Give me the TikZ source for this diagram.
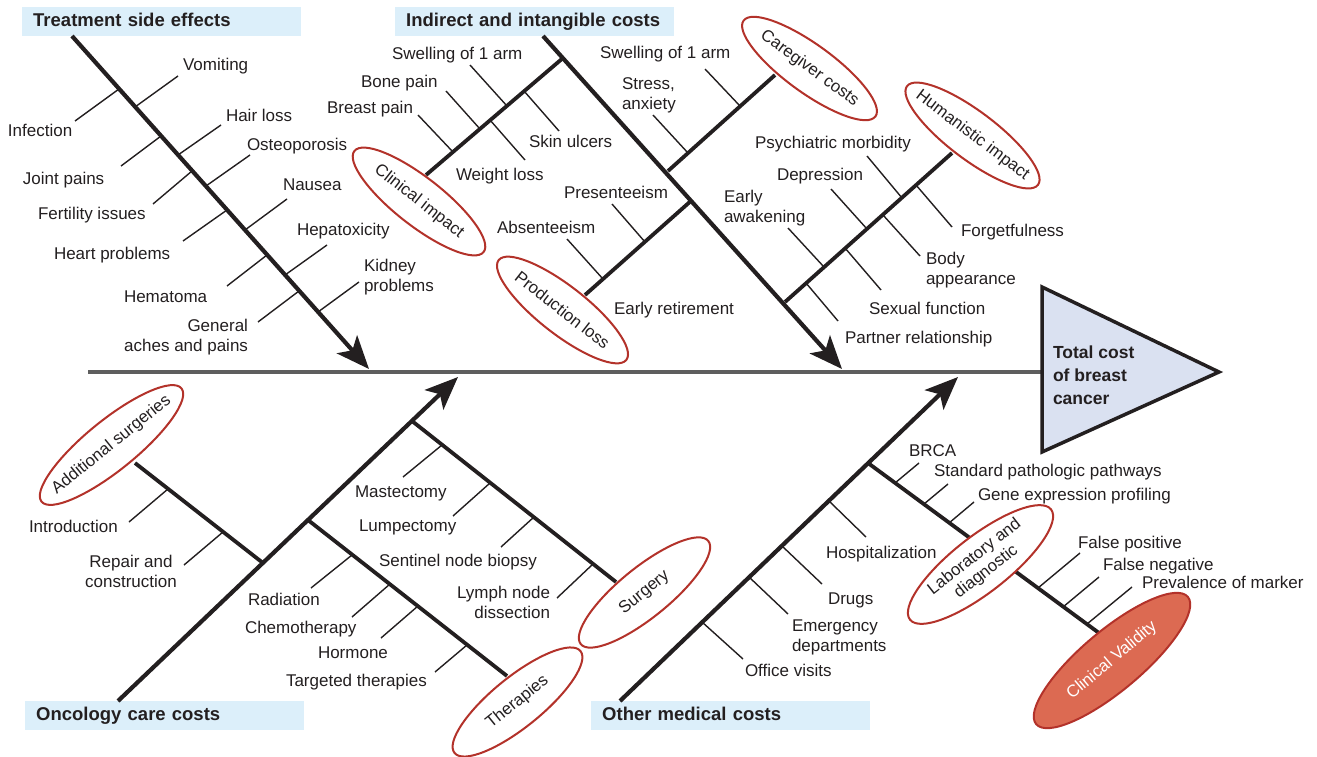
\documentclass[tikz,border=0pt]{standalone}
\usepackage{fontspec}
\setmainfont{Liberation Sans}
\usetikzlibrary{arrows.meta,shapes.geometric}
\definecolor{ink}{HTML}{231F20}
\definecolor{ored}{HTML}{B3322A}
\definecolor{hdrblue}{HTML}{DCEFFA}
\definecolor{trifill}{HTML}{DAE1F1}
\definecolor{cvfill}{HTML}{DC6A52}
\definecolor{spinegray}{HTML}{5E5E5E}
\newcommand{\ribseg}[3]{\coordinate (#1i) at #2; \coordinate (#1o) at #3; \draw[rib] (#1i) -- (#1o);}
\begin{document}
\begin{tikzpicture}[x=1pt, y=-1pt,
  bone/.style={line width=4.2pt, draw=ink, -{Stealth[length=33pt,width=27pt,inset=8pt]}},
  subbone/.style={line width=3.8pt, draw=ink},
  rib/.style={line width=1.4pt, draw=ink},
  lbl/.style={font=\fontsize{17}{20}\selectfont, text=ink, inner sep=0pt, outer sep=0pt},
  hdr/.style={font=\bfseries\fontsize{18.5}{22}\selectfont, text=ink, fill=hdrblue, anchor=west,
    minimum height=29pt, text width=257pt, inner xsep=11pt, inner ysep=0pt, align=left,
    text height=13pt, text depth=3.5pt},
  oval/.style={ellipse, draw=ored, line width=2pt, fill=white, inner sep=0pt, text=ink,
    font=\fontsize{16.8}{19}\selectfont},
  spine/.style={line width=4pt, draw=spinegray},
  tri/.style={draw=ink, line width=3.5pt, fill=trifill, line join=miter}]
\useasboundingbox (0,0) rectangle (1317,757);

% header boxes
\node[hdr] (h1) at (22,21.5) {Treatment side effects};
\node[hdr] (h2) at (395,21.5) {Indirect and intangible costs};
\node[hdr] (h3) at (25,715.5) {Oncology care costs};
\node[hdr] (h4) at (591,715.5) {Other medical costs};

% spine
\coordinate (sp0) at (88,372);
\coordinate (tm) at (1042,372);
\draw[spine] (sp0) -- (tm);

% main bones
\coordinate (b1s) at (72,36);   \coordinate (b1t) at (369,369);
\coordinate (b2s) at (543,36);  \coordinate (b2t) at (842,369);
\coordinate (b3s) at (118,701); \coordinate (b3t) at (458,377);
\coordinate (b4s) at (620,701); \coordinate (b4t) at (958,377);
\draw[bone] (b1s) -- (b1t);
\draw[bone] (b2s) -- (b2t);
\draw[bone] (b3s) -- (b3t);
\draw[bone] (b4s) -- (b4t);

% sub-bones
\coordinate (ciJ) at (563,58);  \coordinate (ciK) at (426,175);
\coordinate (cgJ) at (668,171); \coordinate (cgK) at (775,75);
\coordinate (plJ) at (692,200); \coordinate (plK) at (585,295);
\coordinate (hiJ) at (785,302); \coordinate (hiK) at (952,153);
\coordinate (asJ) at (263,563); \coordinate (asK) at (135,463);
\coordinate (thJ) at (308,520); \coordinate (thK) at (507,676);
\coordinate (suJ) at (412,421); \coordinate (suK) at (616,582);
\coordinate (lbJ) at (868,463); \coordinate (lbK) at (1099,633);
\foreach \s in {ci,cg,pl,hi,as,th,su,lb} {\draw[subbone] (\s J) -- (\s K);}

% ribs: treatment side effects
\ribseg{inf}{(119,89)}{(75,121)}
\ribseg{vom}{(135,107)}{(178,76)}
\ribseg{joi}{(161,136)}{(121,166)}
\ribseg{hai}{(178,155)}{(221,125)}
\ribseg{fer}{(192,171)}{(153,204)}
\ribseg{ost}{(206,186)}{(250,155)}
\ribseg{hea}{(227,210)}{(183,241)}
\ribseg{nau}{(245,230)}{(287,199)}
\ribseg{hem}{(267,255)}{(227,286)}
\ribseg{hep}{(285,275)}{(327,245)}
\ribseg{gen}{(299,291)}{(258,322)}
\ribseg{kid}{(318,312)}{(359,282)}
% clinical impact
\ribseg{swa}{(507,106)}{(470,65)}
\ribseg{bon}{(480,129)}{(446,91)}
\ribseg{bre}{(453,152)}{(418,115)}
\ribseg{ski}{(524,91)}{(559,131)}
\ribseg{wei}{(490,120)}{(525,160)}
% caregiver
\ribseg{swb}{(740,106)}{(705,69)}
\ribseg{str}{(688,153)}{(653,115)}
% production loss
\ribseg{prs}{(645,242)}{(612,204)}
\ribseg{abs}{(603,279)}{(567,239)}
% humanistic
\ribseg{psy}{(902,198)}{(867,156)}
\ribseg{fgt}{(916,185)}{(952,227)}
\ribseg{dep}{(867,229)}{(831,189)}
\ribseg{bod}{(883,215)}{(920,256)}
\ribseg{ear}{(824,267)}{(788,228)}
\ribseg{sex}{(845,248)}{(881,290)}
\ribseg{par}{(806,283)}{(838,321)}
% additional surgeries
\ribseg{int}{(168,489)}{(129,522)}
\ribseg{rep}{(223,532)}{(184,565)}
% surgery
\ribseg{mas}{(442,445)}{(403,477)}
\ribseg{lum}{(490,483)}{(453,516)}
\ribseg{sen}{(534,517)}{(501,547)}
\ribseg{lym}{(593,564)}{(557,598)}
% therapies
\ribseg{rad}{(352,555)}{(311,588)}
\ribseg{che}{(390,584)}{(352,617)}
\ribseg{hor}{(418,606)}{(381,638)}
\ribseg{tar}{(467,645)}{(435,672)}
% other medical
\ribseg{hos}{(829,501)}{(866,537)}
\ribseg{dru}{(782,546)}{(822,584)}
\ribseg{eme}{(749,577)}{(788,614)}
\ribseg{off}{(702,622)}{(743,659)}
% laboratory
\ribseg{brc}{(895,483)}{(919,463)}
\ribseg{std}{(924,504)}{(948,484)}
\ribseg{gex}{(949,523)}{(974,502)}
\ribseg{fpo}{(1038,588)}{(1080,553)}
\ribseg{fne}{(1063,607)}{(1099,577)}
\ribseg{prv}{(1087,624)}{(1132,587)}

% ellipses
\node[oval, minimum width=164pt, minimum height=48pt, rotate=-38] (ciE) at (419,201.5) {\makebox[0pt]{Clinical impact}};
\node[oval, minimum width=162pt, minimum height=48pt, rotate=-38] (plE) at (562.5,310) {\makebox[0pt]{Production loss}};
\node[oval, minimum width=163pt, minimum height=48pt, rotate=-36] (cgE) at (809.5,68.5) {\makebox[0pt]{Caregiver costs}};
\node[oval, minimum width=164pt, minimum height=48pt, rotate=-37] (hiE) at (972.5,135.5) {\makebox[0pt]{Humanistic impact}};
\node[oval, minimum width=180pt, minimum height=50pt, rotate=39] (asE) at (111.5,445) {\makebox[0pt]{Additional surgeries}};
\node[oval, minimum width=164pt, minimum height=50pt, rotate=39] (suE) at (644.5,592.5) {\makebox[0pt]{Surgery}};
\node[oval, minimum width=162pt, minimum height=50pt, rotate=39] (thE) at (517.5,702) {\makebox[0pt]{Therapies}};
\node[oval, minimum width=179pt, minimum height=56pt, rotate=38, align=center] (lbE) at (980.5,564.5) {Laboratory and\\diagnostic};
\node[oval, minimum width=198pt, minimum height=60pt, rotate=40, fill=cvfill, text=white] (cvE) at (1112,660.5) {\makebox[0pt]{Clinical Validity}};

% triangle
\coordinate (ta) at (1042,287);
\coordinate (tb) at (1042,452);
\coordinate (tc) at (1219,372);
\draw[tri] (ta) -- (tc) -- (tb) -- cycle;
\node[lbl, font=\bfseries\fontsize{17.5}{23}\selectfont, align=left, anchor=west] (tot) at (1053,374.8) {Total cost\\of breast\\cancer};

% labels: treatment side effects
\node[lbl, anchor=base west] (Lvom) at (183,71) {Vomiting};
\node[lbl, anchor=base west] (Linf) at (8,136.5) {Infection};
\node[lbl, anchor=base west] (Lhai) at (226,122) {Hair loss};
\node[lbl, anchor=base west] (Ljoi) at (23,184.5) {Joint pains};
\node[lbl, anchor=base west] (Lost) at (247,150.5) {Osteoporosis};
\node[lbl, anchor=base west] (Lfer) at (38,219.5) {Fertility issues};
\node[lbl, anchor=base west] (Lnau) at (283,190.5) {Nausea};
\node[lbl, anchor=base west] (Lhea) at (54,259.5) {Heart problems};
\node[lbl, anchor=base west] (Lhep) at (297,235.5) {Hepatoxicity};
\node[lbl, anchor=base west] (Lhem) at (124,302.5) {Hematoma};
\node[lbl, anchor=west, align=left] (Lkid) at (364,277.6) {Kidney\\problems};
\node[lbl, anchor=east, align=right] (Lgen) at (248,337.6) {General\\aches and pains};

% labels: indirect and intangible
\node[lbl, anchor=base west] (Lswa) at (392,59.5) {Swelling of 1 arm};
\node[lbl, anchor=base west] (Lbon) at (361,87.5) {Bone pain};
\node[lbl, anchor=base west] (Lbre) at (327,113.5) {Breast pain};
\node[lbl, anchor=base west] (Lski) at (529,147.5) {Skin ulcers};
\node[lbl, anchor=base west] (Lwei) at (456,180.5) {Weight loss};
\node[lbl, anchor=base west] (Lprs) at (564,198.5) {Presenteeism};
\node[lbl, anchor=base west] (Labs) at (497,233.5) {Absenteeism};
\node[lbl, anchor=base west] (Lret) at (614,314.5) {Early retirement};
\node[lbl, anchor=base west] (Lswb) at (600,58.5) {Swelling of 1 arm};
\node[lbl, anchor=west, align=left] (Lstr) at (622,95.2) {Stress,\\anxiety};
\node[lbl, anchor=base west] (Lpsy) at (755,149) {Psychiatric morbidity};
\node[lbl, anchor=base west] (Ldep) at (777,180.5) {Depression};
\node[lbl, anchor=west, align=left] (Lear) at (724,207.9) {Early\\awakening};
\node[lbl, anchor=base west] (Lfgt) at (961,236) {Forgetfulness};
\node[lbl, anchor=west, align=left] (Lbod) at (926,269.9) {Body\\appearance};
\node[lbl, anchor=base west] (Lsex) at (869,314.5) {Sexual function};
\node[lbl, anchor=base west] (Lpar) at (845,343.5) {Partner relationship};

% labels: oncology care
\node[lbl, anchor=base west] (Lint) at (29,532.5) {Introduction};
\node[lbl, align=center] (Lrep) at (131,571.3) {Repair and\\construction};
\node[lbl, anchor=base west] (Lrad) at (248,605) {Radiation};
\node[lbl, anchor=base west] (Lche) at (245,633) {Chemotherapy};
\node[lbl, anchor=base west] (Lhor) at (318,658.5) {Hormone};
\node[lbl, anchor=base west] (Ltar) at (286,686.5) {Targeted therapies};
\node[lbl, anchor=base west] (Lmas) at (355,497.5) {Mastectomy};
\node[lbl, anchor=base west] (Llum) at (359,531.5) {Lumpectomy};
\node[lbl, anchor=base west] (Lsen) at (379,566.5) {Sentinel node biopsy};
\node[lbl, anchor=east, align=right] (Llym) at (550,602.8) {Lymph node\\dissection};

% labels: other medical
\node[lbl, anchor=base west] (Lhos) at (826,558.5) {Hospitalization};
\node[lbl, anchor=base west] (Ldru) at (828,604) {Drugs};
\node[lbl, anchor=west, align=left] (Leme) at (792,637.5) {Emergency\\departments};
\node[lbl, anchor=base west] (Loff) at (745,676.5) {Office visits};
\node[lbl, anchor=base west] (Lbrc) at (909,456.5) {BRCA};
\node[lbl, anchor=base west] (Lstd) at (934,476.5) {Standard pathologic pathways};
\node[lbl, anchor=base west] (Lgex) at (978,500) {Gene expression profiling};
\node[lbl, anchor=base west] (Lfpo) at (1078,548) {False positive};
\node[lbl, anchor=base west] (Lfne) at (1103,570) {False negative};
\node[lbl, anchor=base west] (Lprv) at (1142,588.5) {Prevalence of marker};
\end{tikzpicture}
\end{document}
